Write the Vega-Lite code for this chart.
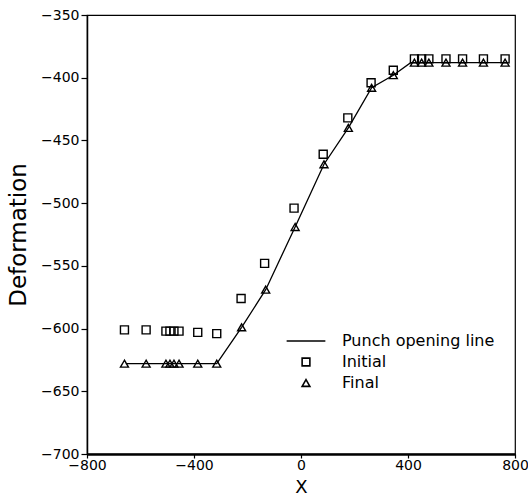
{
  "$schema": "https://vega.github.io/schema/vega-lite/v6.json",
  "autosize": "none",
  "padding": {"left": 87, "top": 15, "right": 13, "bottom": 50},
  "width": 428,
  "height": 439,
  "background": "white",
  "config": {
    "view": {"stroke": "black", "strokeWidth": 1.2},
    "font": "DejaVu Sans",
    "axis": {"domainColor": "black", "tickColor": "black", "labelColor": "black", "titleColor": "black", "grid": false, "domainWidth": 1.5, "tickWidth": 1.2, "labelFontSize": 14, "titleFontWeight": "normal", "labelFlush": false, "labelOverlap": false}
  },
  "datasets": {
    "pts": [
      {"x": -660, "y": -601, "series": "Initial"},
      {"x": -579, "y": -601, "series": "Initial"},
      {"x": -505, "y": -602, "series": "Initial"},
      {"x": -490, "y": -602, "series": "Initial"},
      {"x": -475, "y": -602, "series": "Initial"},
      {"x": -456, "y": -602, "series": "Initial"},
      {"x": -386, "y": -603, "series": "Initial"},
      {"x": -315, "y": -604, "series": "Initial"},
      {"x": -224, "y": -576, "series": "Initial"},
      {"x": -136, "y": -548, "series": "Initial"},
      {"x": -26, "y": -504, "series": "Initial"},
      {"x": 83, "y": -461, "series": "Initial"},
      {"x": 175, "y": -432, "series": "Initial"},
      {"x": 262, "y": -404, "series": "Initial"},
      {"x": 345, "y": -394, "series": "Initial"},
      {"x": 424, "y": -385, "series": "Initial"},
      {"x": 451, "y": -385, "series": "Initial"},
      {"x": 478, "y": -385, "series": "Initial"},
      {"x": 542, "y": -385, "series": "Initial"},
      {"x": 604, "y": -385, "series": "Initial"},
      {"x": 682, "y": -385, "series": "Initial"},
      {"x": 763, "y": -385, "series": "Initial"},
      {"x": -660, "y": -628, "series": "Final"},
      {"x": -579, "y": -628, "series": "Final"},
      {"x": -505, "y": -628, "series": "Final"},
      {"x": -490, "y": -628, "series": "Final"},
      {"x": -475, "y": -628, "series": "Final"},
      {"x": -456, "y": -628, "series": "Final"},
      {"x": -386, "y": -628, "series": "Final"},
      {"x": -315, "y": -628, "series": "Final"},
      {"x": -222, "y": -599, "series": "Final"},
      {"x": -132, "y": -569, "series": "Final"},
      {"x": -22, "y": -519, "series": "Final"},
      {"x": 86, "y": -469, "series": "Final"},
      {"x": 177, "y": -440, "series": "Final"},
      {"x": 264, "y": -408, "series": "Final"},
      {"x": 345, "y": -398, "series": "Final"},
      {"x": 424, "y": -388, "series": "Final"},
      {"x": 451, "y": -388, "series": "Final"},
      {"x": 478, "y": -388, "series": "Final"},
      {"x": 542, "y": -388, "series": "Final"},
      {"x": 604, "y": -388, "series": "Final"},
      {"x": 682, "y": -388, "series": "Final"},
      {"x": 763, "y": -388, "series": "Final"}
    ],
    "line": [
      {"x": -655, "y": -628},
      {"x": -315, "y": -628},
      {"x": -222, "y": -599},
      {"x": -132, "y": -569},
      {"x": -22, "y": -519},
      {"x": 86, "y": -469},
      {"x": 177, "y": -440},
      {"x": 264, "y": -408},
      {"x": 345, "y": -398},
      {"x": 410, "y": -388},
      {"x": 770, "y": -388}
    ]
  },
  "layer": [
    {
      "data": {"name": "line"},
      "mark": {"type": "line", "color": "black", "strokeWidth": 1.3},
      "encoding": {
        "x": {"field": "x", "type": "quantitative", "scale": {"domain": [-800, 800], "nice": false},
          "axis": {"values": [-800, -400, 0, 400, 800], "title": "X", "titleFontSize": 18, "titlePadding": 6, "tickSize": 4, "labelPadding": 0, "domainWidth": 2.5}},
        "y": {"field": "y", "type": "quantitative", "scale": {"domain": [-700, -350], "nice": false, "zero": false},
          "axis": {"values": [-700, -675, -650, -625, -600, -575, -550, -525, -500, -475, -450, -425, -400, -375, -350],
            "labelExpr": "datum.value % 50 == 0 ? datum.label : ''",
            "tickSize": {"condition": {"test": "datum.value % 50 != 0", "value": 3}, "value": 6},
            "title": "Deformation", "titleFontSize": 23, "titlePadding": 10, "labelPadding": 2}}
      }
    },
    {
      "data": {"name": "pts"},
      "mark": {"type": "point", "filled": false, "color": "black", "size": 64, "strokeWidth": 1.4, "opacity": 1},
      "encoding": {
        "x": {"field": "x", "type": "quantitative"},
        "y": {"field": "y", "type": "quantitative"},
        "shape": {"field": "series", "type": "nominal",
          "scale": {"domain": ["Punch opening line", "Initial", "Final"], "range": ["M-5,0H5", "square", "triangle-up"]},
          "legend": {"orient": "none", "legendX": 211, "legendY": 318, "title": null, "labelFontSize": 16, "labelOffset": 28, "symbolSize": 60, "symbolStrokeColor": "black", "symbolStrokeWidth": 1.6, "rowPadding": 5, "labelColor": "black"}}
      }
    }
  ]
}
